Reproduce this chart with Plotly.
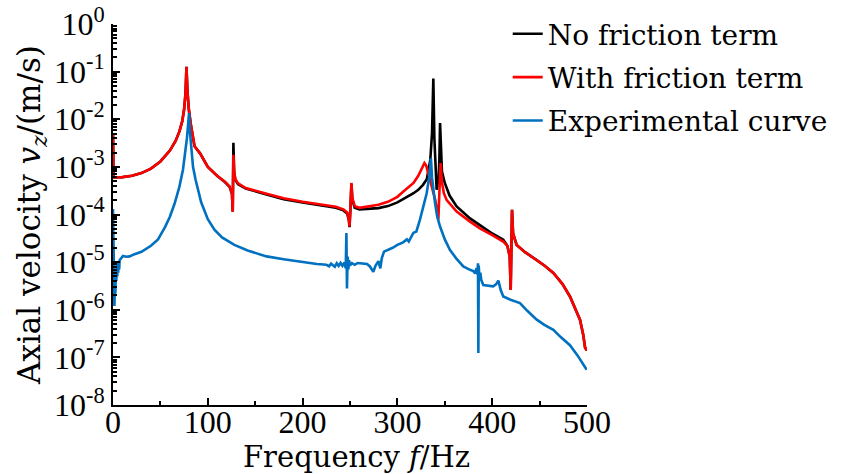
import plotly.graph_objects as go

# ---------------- data ----------------
freq_red = [0, 0.6, 10, 20, 30, 40, 50, 60, 66, 70, 73, 75, 76.5, 77.5, 78.5, 80, 82, 86, 92, 100,
            110, 118, 123, 125.5, 126.3, 127, 127.8, 129, 132, 140, 160, 180, 200, 220, 235, 243,
            247, 248.8, 249.5, 250.5, 251.5, 252.5, 255, 260, 270, 280, 290, 300, 306, 312, 317,
            322, 326, 328.5, 330.5, 332.6, 336, 340, 342, 343.2, 344.3, 345.6, 346.8, 349, 352,
            362.5, 376.6, 387, 400, 411.7, 416, 418.5, 419.5, 420.9, 422, 425.8, 435, 447, 455,
            464.5, 474, 482, 488, 492.6, 496, 498, 500]
vel_red = [5.0e-3, 6.0e-4, 6.1e-4, 6.5e-4, 7.4e-4, 9.2e-4, 1.3e-3, 2.2e-3, 3.5e-3, 5.5e-3, 9e-3,
           1.6e-2, 3.5e-2, 1.26e-1, 4e-2, 1.6e-2, 8e-3, 2.7e-3, 1.9e-3, 1.0e-3,
           6.5e-4, 4.9e-4, 3.9e-4, 2.8e-4, 1.15e-4, 1.8e-3, 8e-4, 5.5e-4, 4.5e-4, 3.6e-4, 2.8e-4,
           2.2e-4, 1.85e-4, 1.6e-4, 1.45e-4, 1.28e-4,
           1.1e-4, 8e-5, 5.6e-5, 1.5e-4, 4.6e-4, 2.2e-4, 1.5e-4, 1.38e-4, 1.5e-4, 1.6e-4, 1.85e-4,
           2.35e-4, 3.0e-4, 3.7e-4, 4.6e-4,
           6.5e-4, 9.5e-4, 1.2e-3, 1.05e-3, 7.4e-4, 4e-4, 2e-4, 1.2e-4, 7.8e-5, 3e-4, 1.2e-3, 5e-4,
           2.8e-4, 2.0e-4,
           1.15e-4, 7.1e-5, 5.1e-5, 3.7e-5, 2.7e-5, 2.2e-5, 1.3e-5, 2.6e-6, 1.26e-4, 4e-5, 2.3e-5,
           1.6e-5, 1.1e-5, 8.5e-6,
           5.9e-6, 3.5e-6, 1.9e-6, 1.0e-6, 6.2e-7, 3e-7, 1.6e-7, 1.4e-7]

freq_black = [0, 0.6, 10, 20, 30, 40, 50, 60, 66, 70, 73, 75, 76.5, 77.5, 78.5, 80, 82, 86, 92, 100,
              110, 118, 123, 125.5, 126.3, 127, 127.8, 129, 132, 140, 160, 180, 200, 220, 235, 243,
              247, 248.8, 249.5, 250.5, 251.5, 252.5, 255, 260, 270, 280, 290, 300, 306, 312, 317,
              322, 327, 331, 334.7, 336.5, 337.9, 339, 340, 341.4, 343.5, 344.3, 345, 345.8, 347,
              350, 355, 362.5, 376.6, 387, 400, 411.7, 416, 418.5, 419.5, 420.9, 422, 425.8, 435,
              447, 455, 464.5, 474, 482, 488, 492.6, 496, 498, 500]
vel_black = [5.0e-3, 6.0e-4, 6.1e-4, 6.5e-4, 7.4e-4, 9.2e-4, 1.3e-3, 2.2e-3, 3.5e-3, 5.5e-3, 9e-3,
             1.6e-2, 3.5e-2, 1.26e-1, 4e-2, 1.6e-2, 8e-3, 2.7e-3, 1.9e-3, 1.0e-3,
             6.4e-4, 4.8e-4, 3.8e-4, 2.7e-4, 1.15e-4, 3.2e-3, 8e-4, 5.3e-4, 4.3e-4, 3.5e-4, 2.7e-4,
             2.1e-4, 1.78e-4, 1.53e-4, 1.38e-4, 1.22e-4,
             1.05e-4, 7.6e-5, 5.4e-5, 1.4e-4, 4.4e-4, 2.0e-4, 1.38e-4, 1.28e-4, 1.32e-4, 1.36e-4,
             1.5e-4, 1.8e-4, 2.1e-4, 2.45e-4, 2.8e-4,
             3.3e-4, 4.2e-4, 5.5e-4, 1.4e-3, 5e-3, 7.2e-2, 4e-3, 9e-4, 3.3e-4, 6e-4, 1.5e-3, 8.3e-3,
             2e-3, 8e-4,
             4.6e-4, 2.5e-4, 1.48e-4, 8.3e-5, 6e-5, 4e-5, 2.95e-5, 2.2e-5, 1.3e-5, 2.6e-6, 1.26e-4,
             4e-5, 2.3e-5, 1.6e-5,
             1.1e-5, 8.5e-6, 5.9e-6, 3.5e-6, 1.9e-6, 1.0e-6, 6.2e-7, 3e-7, 1.6e-7, 1.4e-7]

freq_exp = [0, 0.5, 1.0, 1.5, 2.0, 2.5, 3.0, 3.5, 4.0, 4.5, 5.0, 5.5, 6.0, 6.5, 7.0, 8.0, 9.0, 10.5,
            14, 17.6, 22, 30, 40, 47.5, 55, 60, 65, 70, 73.8, 76, 78, 79.3, 80.2, 81, 82.5, 84.4,
            87, 90, 93, 100, 107, 115, 128, 142, 162, 180, 197, 215, 225, 228, 230, 232, 234, 236,
            238, 240, 242, 244, 245.5, 246.2, 246.8, 247.5, 248.3, 249, 250, 252, 255, 258, 261,
            265, 268, 271, 274.6, 277, 279, 280, 282, 283.5, 285.9, 290, 295, 300, 306, 310, 312,
            316.8, 320, 323.8, 327, 330.9, 333.5, 335.4, 336.5, 337.8, 339.7, 342, 345, 350,
            355.5, 362, 369.5, 376.6, 380, 382, 383.5, 384.5, 385, 385.4, 385.8, 386.5, 387.5,
            388.5, 390.6, 395, 401, 404, 406.5, 409, 411.7, 420, 429.3, 437, 447, 455, 464.5, 472,
            482, 490, 496, 499.7]
vel_exp = [1.3e-4, 2e-5, 3e-6, 1.2e-6, 3.5e-6, 2.2e-6, 7e-6, 4e-6, 9e-6, 5e-6, 1.0e-5, 6e-6, 1.05e-5,
           7e-6, 1.1e-5, 1.15e-5, 1.25e-5, 1.35e-5,
           1.3e-5, 1.32e-5, 1.45e-5, 1.65e-5, 2.2e-5, 3.0e-5, 5.5e-5, 9e-5, 1.7e-4, 3.8e-4, 8.7e-4,
           1.8e-3, 4e-3, 8e-3, 1.35e-2, 6e-3, 2.5e-3, 1.0e-3,
           5.5e-4, 3.2e-4, 1.8e-4, 8e-5, 4.8e-5, 3.3e-5, 2.3e-5, 1.75e-5, 1.32e-5, 1.15e-5, 1.02e-5,
           9.1e-6, 8.8e-6, 8.2e-6, 9.3e-6, 8.7e-6, 8.0e-6, 9.5e-6,
           8.3e-6, 9.6e-6, 8.4e-6, 9.8e-6, 7.5e-6, 4.1e-5, 2.8e-6, 1.3e-5, 7e-6, 1.1e-5, 8.5e-6,
           9.5e-6, 8.8e-6, 9.6e-6, 9.4e-6,
           9.0e-6, 9.1e-6, 8.1e-6, 6.3e-6, 8.5e-6, 1.0e-5, 1.05e-5, 7.4e-6, 1.2e-5, 1.66e-5, 1.8e-5,
           2.0e-5, 2.3e-5, 2.6e-5, 3.0e-5, 2.7e-5,
           4.1e-5, 4.4e-5, 7.8e-5, 1.4e-4, 2.8e-4, 6e-4, 1.5e-3, 6e-4, 3.2e-4, 1.74e-4, 9e-5, 5.6e-5,
           3.0e-5,
           1.8e-5, 1.2e-5, 8.1e-6, 6.9e-6, 6.5e-6, 5.8e-6, 7.5e-6, 5.5e-6, 9.5e-6, 1.23e-7, 8.5e-6,
           4.5e-6, 6e-6,
           4.2e-6, 3.3e-6, 3.2e-6, 3.1e-6, 3.4e-6, 4.1e-6, 2.6e-6, 1.9e-6, 1.6e-6, 1.38e-6, 9.5e-7,
           6.2e-7, 4.8e-7, 3.8e-7, 2.7e-7,
           1.8e-7, 1.1e-7, 7e-8, 5.5e-8]

x_ticks = [0, 100, 200, 300, 400, 500]
x_minor = [50, 150, 250, 350, 450]
y_exponents = [-8, -7, -6, -5, -4, -3, -2, -1, 0]
y_ticks = [10.0 ** e for e in y_exponents]
y_ticktext = ["10<sup>%d</sup>" % e for e in y_exponents]
y_minor = [k * 10.0 ** e for e in y_exponents[:-1] for k in range(2, 10)]

series_names = ["No friction term", "With friction term", "Experimental curve"]
series_colors = ["#000000", "#FF0000", "#0070C0"]
x_title = "Frequency <i>f</i>/Hz"
y_title = "Axial velocity <i>v</i><sub><i>z</i></sub>/(m/s)"

TEXT_FONT = "DejaVu Serif"
TICK_FONT = "Liberation Serif"

fig = go.Figure()
for i, (xs, ys) in enumerate([(freq_black, vel_black), (freq_red, vel_red), (freq_exp, vel_exp)]):
    fig.add_trace(go.Scatter(x=xs, y=ys, mode="lines", name=series_names[i],
                             legendgroup="g%d" % i,
                             line=dict(color=series_colors[i], width=2.6)))

fig.update_layout(
    width=842, height=474,
    margin=dict(l=113, r=255, t=24, b=69, autoexpand=False),
    paper_bgcolor="white", plot_bgcolor="white",
    showlegend=True,
    legend=dict(xref="container", yref="container",
                x=0.603, xanchor="left", y=0.981, yanchor="top",
                font=dict(family=TEXT_FONT, size=28, color="black"),
                tracegroupgap=4, bgcolor="rgba(0,0,0,0)"),
    annotations=[dict(text=x_title, xref="paper", yref="paper", x=0.513, y=-0.137,
                      xanchor="center", yanchor="middle", showarrow=False, height=32,
                      font=dict(family=TEXT_FONT, size=29, color="black"))],
)
fig.update_xaxes(
    range=[0, 500], tickmode="array", tickvals=x_ticks, automargin=False,
    ticks="inside", ticklen=7, tickwidth=2, tickcolor="black", ticklabelstandoff=-12,
    showline=True, linewidth=2, linecolor="black", showgrid=False, zeroline=False,
    tickfont=dict(family=TICK_FONT, size=32, color="black"),
    minor=dict(tickmode="array", tickvals=x_minor, ticks="inside", ticklen=4,
               tickwidth=1.5, tickcolor="black", showgrid=False),
)
fig.update_yaxes(
    type="log", range=[-8, 0], tickmode="array", tickvals=y_ticks, ticktext=y_ticktext,
    automargin=False,
    ticks="inside", ticklen=7, tickwidth=2, tickcolor="black",
    showline=True, linewidth=2, linecolor="black", showgrid=False, zeroline=False,
    tickfont=dict(family=TICK_FONT, size=32, color="black"),
    minor=dict(tickmode="array", tickvals=y_minor, ticks="inside", ticklen=4,
               tickwidth=1.5, tickcolor="black", showgrid=False),
    title=dict(text=y_title, standoff=4,
               font=dict(family=TEXT_FONT, size=31, color="black")),
)

fig.write_html("out.html")
